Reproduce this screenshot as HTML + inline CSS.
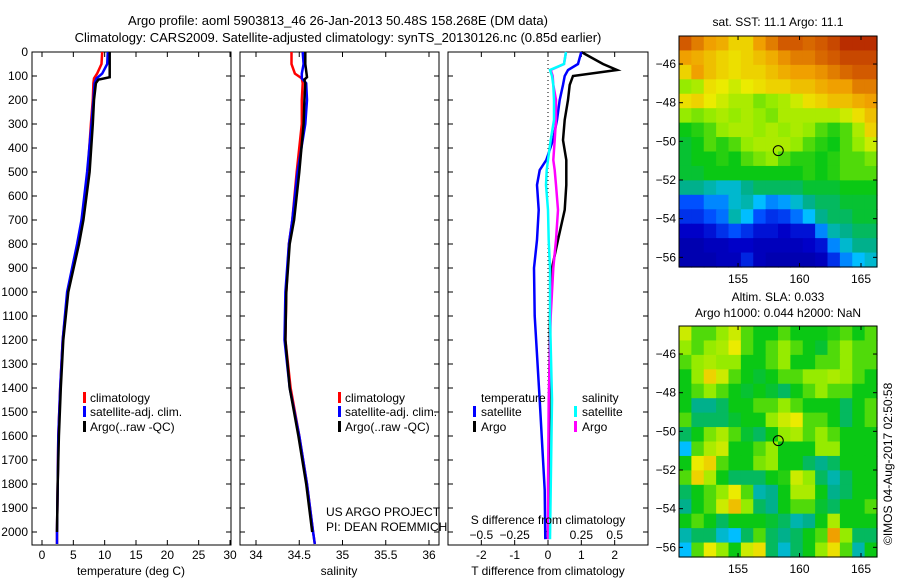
<!DOCTYPE html>
<html><head><meta charset="utf-8">
<style>
html,body{margin:0;padding:0;background:#fff;}
svg text{font-family:"Liberation Sans",sans-serif;font-size:12px;fill:#000;}
</style></head>
<body>
<svg id="fig" width="900" height="580" viewBox="0 0 900 580" xmlns="http://www.w3.org/2000/svg">
<rect width="900" height="580" fill="#fff"/>
<text x="338" y="25" text-anchor="middle" style="font-size:13px">Argo profile: aoml 5903813_46 26-Jan-2013 50.48S 158.268E (DM data)</text>
<text x="338" y="42" text-anchor="middle" style="font-size:13px">Climatology: CARS2009. Satellite-adjusted climatology: synTS_20130126.nc (0.85d earlier)</text>
<text x="778" y="26" text-anchor="middle">sat. SST: 11.1 Argo: 11.1</text>
<text x="778" y="301" text-anchor="middle">Altim. SLA: 0.033</text>
<text x="778" y="317" text-anchor="middle">Argo h1000: 0.044 h2000: NaN</text>
<text transform="translate(892,545) rotate(-90)">©IMOS 04-Aug-2017 02:50:58</text>
<text x="326" y="516">US ARGO PROJECT</text>
<text x="326" y="531">PI: DEAN ROEMMICH</text>
<g id="g"></g>
</svg>
<script>
// ---- data ----
const depthT = [0,50,90,110,130,200,300,500,700,800,1000,1200,1400,1600,1800,2000,2050];
const tempClim = [9.6,9.5,8.8,8.3,8.2,8.1,7.8,7.3,6.4,5.7,4.1,3.3,2.9,2.6,2.5,2.4,2.4];
const tempSat = [10.5,10.4,9.6,8.7,8.4,8.2,7.9,7.2,6.3,5.6,4.0,3.3,2.9,2.6,2.5,2.4,2.4];
const depthArgo = [0,50,105,115,130,200,300,500,700,800,1000,1200,1400,1600,1800,2000];
const tempArgo = [10.8,10.8,10.8,9.0,8.6,8.3,8.1,7.6,6.6,5.9,4.2,3.4,3.0,2.7,2.5,2.4];
const salClim = [34.41,34.41,34.45,34.53,34.54,34.53,34.53,34.47,34.42,34.38,34.35,34.34,34.40,34.50,34.59,34.66,34.68];
const salSat = [34.54,34.55,34.53,34.53,34.58,34.59,34.57,34.48,34.42,34.38,34.34,34.33,34.39,34.50,34.59,34.66,34.68];
const salArgo = [34.57,34.57,34.59,34.56,34.57,34.56,34.55,34.50,34.44,34.39,34.35,34.34,34.39,34.49,34.58,34.65];
const depthD = [0,50,75,100,137,200,283,367,450,492,554,658,783,900,1100,1450,1825,2030];
const dTsat = [1.0,0.9,0.6,0.5,0.45,0.35,0.27,0.15,-0.05,-0.25,-0.33,-0.28,-0.33,-0.42,-0.40,-0.25,-0.1,-0.08];
const dTargo = [1.0,1.65,2.07,0.75,0.65,0.6,0.5,0.45,0.55,0.55,0.55,0.5,0.3,0.12,0.06,0.04,0.02,0.0];
const dSsat = [0.135,0.12,0.015,0.03,0.04,0.045,0.045,0.02,0,-0.01,-0.015,0,0.005,0.015,0.015,0.03,0.02,0.015];
const dSargo = [0.135,0.12,0.02,0.035,0.04,0.06,0.06,0.05,0.04,0.05,0.06,0.075,0.06,0.04,0.02,0.005,0,0];
const depthTicks = [0,100,200,300,400,500,600,700,800,900,1000,1100,1200,1300,1400,1500,1600,1700,1800,1900,2000];
const tempTicks = [0,5,10,15,20,25,30];
const salTicks = [34,34.5,35,35.5,36];
const tdTicks = [-2,-1,0,1,2];
const sdTicks = [-0.5,-0.25,0,0.25,0.5];
const lonTicks = [155,160,165];
const latTicks = [-46,-48,-50,-52,-54,-56];
const sstGrid = [
[0.9,0.85,0.8,0.78,0.72,0.72,0.8,0.85,0.9,0.9,0.88,0.9,0.92,0.95,0.95,0.95],
[0.8,0.78,0.75,0.72,0.7,0.72,0.75,0.78,0.82,0.85,0.85,0.88,0.9,0.92,0.92,0.92],
[0.72,0.8,0.75,0.72,0.7,0.72,0.72,0.75,0.78,0.8,0.8,0.82,0.85,0.88,0.9,0.9],
[0.6,0.62,0.7,0.68,0.65,0.68,0.7,0.72,0.72,0.75,0.75,0.78,0.8,0.8,0.85,0.85],
[0.7,0.72,0.68,0.65,0.62,0.62,0.58,0.6,0.62,0.65,0.7,0.72,0.75,0.75,0.78,0.8],
[0.6,0.58,0.6,0.62,0.6,0.62,0.6,0.58,0.62,0.62,0.62,0.62,0.62,0.65,0.7,0.75],
[0.5,0.52,0.55,0.6,0.62,0.62,0.6,0.62,0.6,0.62,0.6,0.55,0.52,0.55,0.62,0.72],
[0.48,0.5,0.55,0.52,0.55,0.6,0.62,0.62,0.62,0.6,0.55,0.52,0.5,0.55,0.6,0.65],
[0.48,0.5,0.5,0.52,0.5,0.55,0.58,0.6,0.55,0.52,0.52,0.5,0.52,0.55,0.55,0.58],
[0.48,0.48,0.5,0.5,0.5,0.5,0.5,0.5,0.5,0.5,0.52,0.5,0.52,0.55,0.55,0.55],
[0.42,0.42,0.4,0.38,0.38,0.42,0.45,0.45,0.45,0.45,0.48,0.48,0.48,0.5,0.5,0.5],
[0.25,0.25,0.3,0.3,0.38,0.4,0.35,0.3,0.32,0.38,0.42,0.45,0.45,0.48,0.48,0.48],
[0.2,0.2,0.25,0.28,0.4,0.35,0.25,0.2,0.22,0.28,0.35,0.42,0.45,0.45,0.48,0.48],
[0.12,0.12,0.15,0.2,0.25,0.2,0.15,0.15,0.12,0.15,0.15,0.3,0.4,0.42,0.45,0.45],
[0.08,0.08,0.1,0.1,0.12,0.12,0.1,0.1,0.1,0.1,0.12,0.15,0.3,0.38,0.42,0.42],
[0.08,0.08,0.08,0.1,0.1,0.18,0.1,0.08,0.08,0.08,0.08,0.1,0.2,0.3,0.35,0.38]];
const slaGrid = [
[0.65,0.55,0.55,0.6,0.65,0.55,0.5,0.5,0.55,0.5,0.5,0.5,0.52,0.55,0.5,0.55],
[0.6,0.55,0.6,0.62,0.68,0.55,0.5,0.55,0.6,0.55,0.5,0.48,0.55,0.6,0.55,0.55],
[0.55,0.6,0.62,0.6,0.6,0.5,0.5,0.55,0.6,0.5,0.5,0.55,0.55,0.6,0.55,0.55],
[0.5,0.6,0.72,0.65,0.55,0.5,0.48,0.5,0.55,0.55,0.6,0.6,0.62,0.6,0.55,0.5],
[0.5,0.55,0.6,0.55,0.5,0.48,0.5,0.48,0.45,0.5,0.55,0.6,0.55,0.55,0.5,0.5],
[0.5,0.42,0.42,0.45,0.5,0.5,0.55,0.55,0.6,0.55,0.5,0.5,0.5,0.45,0.5,0.55],
[0.55,0.45,0.45,0.45,0.48,0.5,0.5,0.6,0.65,0.68,0.55,0.55,0.5,0.45,0.5,0.55],
[0.45,0.5,0.58,0.62,0.55,0.48,0.45,0.5,0.6,0.62,0.55,0.6,0.55,0.5,0.5,0.5],
[0.35,0.55,0.62,0.65,0.5,0.5,0.55,0.6,0.5,0.5,0.5,0.6,0.6,0.5,0.5,0.5],
[0.5,0.68,0.72,0.55,0.5,0.5,0.58,0.6,0.5,0.5,0.45,0.42,0.45,0.5,0.5,0.5],
[0.55,0.72,0.62,0.5,0.45,0.45,0.45,0.5,0.52,0.65,0.6,0.45,0.4,0.45,0.5,0.5],
[0.45,0.5,0.55,0.6,0.68,0.55,0.4,0.42,0.5,0.62,0.62,0.5,0.42,0.45,0.5,0.5],
[0.42,0.5,0.55,0.65,0.75,0.6,0.45,0.42,0.5,0.55,0.55,0.48,0.45,0.5,0.5,0.55],
[0.5,0.55,0.5,0.45,0.5,0.5,0.5,0.48,0.45,0.4,0.42,0.5,0.62,0.5,0.5,0.5],
[0.4,0.45,0.45,0.38,0.35,0.45,0.55,0.45,0.42,0.45,0.5,0.55,0.8,0.6,0.45,0.45],
[0.35,0.55,0.68,0.6,0.5,0.65,0.7,0.45,0.38,0.45,0.5,0.6,0.7,0.55,0.4,0.5]];
const floatLon = [158.27];
const floatLat = [-50.48];

// ---- helpers ----
const NS='http://www.w3.org/2000/svg';
const G=document.getElementById('g');
function mk(tag,attrs,parent){const e=document.createElementNS(NS,tag);for(const k in attrs)e.setAttribute(k,attrs[k]);(parent||G).appendChild(e);return e;}
function lin(d0,d1,r0,r1){return v=>r0+(v-d0)*(r1-r0)/(d1-d0);}
const yD = lin(0,2000,52,532);
const PY0=52, PY1=545;

function panel(name,x0,x1){
  const r=mk('rect',{x:x0,y:PY0,width:x1-x0,height:PY1-PY0,fill:'none',stroke:'#000','stroke-width':1});
  
  
}
function line(name,xs,ds,fx,color,w){
  const pts=xs.map((v,i)=>fx(v).toFixed(1)+','+yD(ds[i]).toFixed(1)).join(' ');
  const p=mk('polyline',{points:pts,fill:'none',stroke:color,'stroke-width':w||2.5,'stroke-linejoin':'miter'});
  
  
}
function xticks(name,ticks,fx,y0,y1,labelY,fmt){
  ticks.forEach(t=>{
    const x=fx(t);
    mk('line',{x1:x,x2:x,y1:y1,y2:y1-5,stroke:'#000'});
    mk('line',{x1:x,x2:x,y1:y0,y2:y0+5,stroke:'#000'});
    if(labelY){const tx=mk('text',{x:x,y:labelY,'text-anchor':'middle'});tx.textContent=fmt?fmt(t):String(t);
      
      }
  });
}
function depthTickMarks(x0,x1){
  depthTicks.forEach(d=>{const y=yD(d);
    mk('line',{x1:x0,x2:x0+5,y1:y,y2:y,stroke:'#000'});
    mk('line',{x1:x1,x2:x1-5,y1:y,y2:y,stroke:'#000'});});
}
function label(name,txt,x,y,anchor){const t=mk('text',{x:x,y:y,'text-anchor':anchor||'start'});t.textContent=txt;
  
  return t;}
function legendBar(name,x,y,color){const r=mk('rect',{x:x,y:y-10,width:3,height:11,fill:color});
  
  }

// ---- panel 1: temperature ----
const xT = lin(0,30,42,230);
panel('temperature-panel',32,231);
depthTickMarks(32,231);
depthTicks.forEach(d=>{label('depth-tick-label',String(d),28,yD(d)+4,'end');});
xticks('temperature-axis',tempTicks,xT,PY0,PY1,559);
line('temperature-climatology-line',tempClim,depthT,xT,'#f00');
line('temperature-satellite-line',tempSat,depthT,xT,'#00f');
line('temperature-argo-line',tempArgo,depthArgo,xT,'#000');
label('temperature-axis-title','temperature (deg C)',131,575,'middle');
legendBar('legend-climatology-marker',83,402,'#f00');label('legend-climatology','climatology',90,402);
legendBar('legend-satellite-marker',83,416,'#00f');label('legend-satellite','satellite-adj. clim.',90,416);
legendBar('legend-argo-marker',83,431,'#000');label('legend-argo','Argo(..raw -QC)',90,431);

// ---- panel 2: salinity ----
const xS = lin(34,36,256,429);
panel('salinity-panel',240,439);
depthTickMarks(240,439);
xticks('salinity-axis',salTicks,xS,PY0,PY1,559);
line('salinity-climatology-line',salClim,depthT,xS,'#f00');
line('salinity-satellite-line',salSat,depthT,xS,'#00f');
line('salinity-argo-line',salArgo,depthArgo,xS,'#000');
label('salinity-axis-title','salinity',339,575,'middle');
legendBar('legend2-climatology-marker',338,402,'#f00');label('legend2-climatology','climatology',345,402);
legendBar('legend2-satellite-marker',338,416,'#00f');label('legend2-satellite','satellite-adj. clim.',345,416);
legendBar('legend2-argo-marker',338,431,'#000');label('legend2-argo','Argo(..raw -QC)',345,431);

// ---- panel 3: differences ----
const xTd = lin(-3,3,448,648);
const xSd = lin(-0.75,0.75,448,648);
panel('difference-panel',448,648);
depthTickMarks(448,648);
xticks('t-diff-axis',tdTicks,xTd,PY0,PY1,559);
sdTicks.forEach(t=>{label('s-diff-tick-label',String(t).replace('-','\u2212'),xSd(t),539,'middle');});
const zl=mk('line',{x1:xTd(0),x2:xTd(0),y1:PY0,y2:PY1,stroke:'#000','stroke-dasharray':'1,3'});


line('t-diff-argo-line',dTargo,depthD,xTd,'#000');
line('t-diff-satellite-line',dTsat,depthD,xTd,'#00f');
line('s-diff-argo-line',dSargo,depthD,xSd,'#f0f');
line('s-diff-satellite-line',dSsat,depthD,xSd,'#0ff');
label('s-diff-axis-title','S difference from climatology',548,524,'middle');
label('t-diff-axis-title','T difference from climatology',548,575,'middle');
label('legend3-temperature-heading','temperature',481,402);
label('legend3-salinity-heading','salinity',582,402);
legendBar('legend3-t-sat-marker',473,416,'#00f');label('legend3-t-satellite','satellite',481,416);
legendBar('legend3-t-argo-marker',473,431,'#000');label('legend3-t-argo','Argo',481,431);
legendBar('legend3-s-sat-marker',574,416,'#0ff');label('legend3-s-satellite','satellite',582,416);
legendBar('legend3-s-argo-marker',574,431,'#f0f');label('legend3-s-argo','Argo',582,431);

// ---- maps ----
const cstops=[[0,[0,0,128]],[0.12,[0,0,200]],[0.25,[0,80,255]],[0.35,[0,190,255]],[0.42,[0,176,140]],[0.5,[10,200,20]],[0.6,[150,235,0]],[0.68,[235,235,0]],[0.8,[240,160,0]],[0.9,[210,90,0]],[1,[160,0,0]]];
function cmap(v){for(let i=1;i<cstops.length;i++){if(v<=cstops[i][0]){const a=cstops[i-1],b=cstops[i];const t=(v-a[0])/(b[0]-a[0]);
  return 'rgb('+a[1].map((c,k)=>Math.round(c+(b[1][k]-c)*t)).join(',')+')';}}return 'rgb(160,0,0)';}
function map(name,grid,y0,y1){
  const x0=679,x1=877;
  const xL=lin(150.2,166.3,x0,x1), yL=lin(-44.55,-56.5,y0,y1);
  const nr=grid.length,nc=grid[0].length;
  const cw=(x1-x0)/nc, ch=(y1-y0)/nr;
  grid.forEach((row,r)=>row.forEach((v,c)=>{
    const e=mk('rect',{x:(x0+c*cw).toFixed(2),y:(y0+r*ch).toFixed(2),width:(cw+0.6).toFixed(2),height:(ch+0.6).toFixed(2),fill:cmap(v)});
    
    
  }));
  const fr=mk('rect',{x:x0,y:y0,width:x1-x0,height:y1-y0,fill:'none',stroke:'#000'});
  
  
  lonTicks.forEach(l=>{const x=xL(l);mk('line',{x1:x,x2:x,y1:y0,y2:y0+4,stroke:'#000'});mk('line',{x1:x,x2:x,y1:y1,y2:y1-4,stroke:'#000'});
    label(name+'-lon-label',String(l),x,y1+16,'middle');});
  latTicks.forEach(l=>{const y=yL(l);mk('line',{x1:x0,x2:x0+4,y1:y,y2:y,stroke:'#000'});mk('line',{x1:x1,x2:x1-4,y1:y,y2:y,stroke:'#000'});
    label(name+'-lat-label',String(l).replace('-','\u2212'),x0-3,y+4,'end');});
  floatLon.forEach((lo,i)=>{const c=mk('circle',{cx:xL(lo),cy:yL(floatLat[i]),r:5,fill:'none',stroke:'#000'});
    
    });
}
map('sst-map',sstGrid,36,267);
map('sla-map',slaGrid,326,557);
</script>
</body></html>
